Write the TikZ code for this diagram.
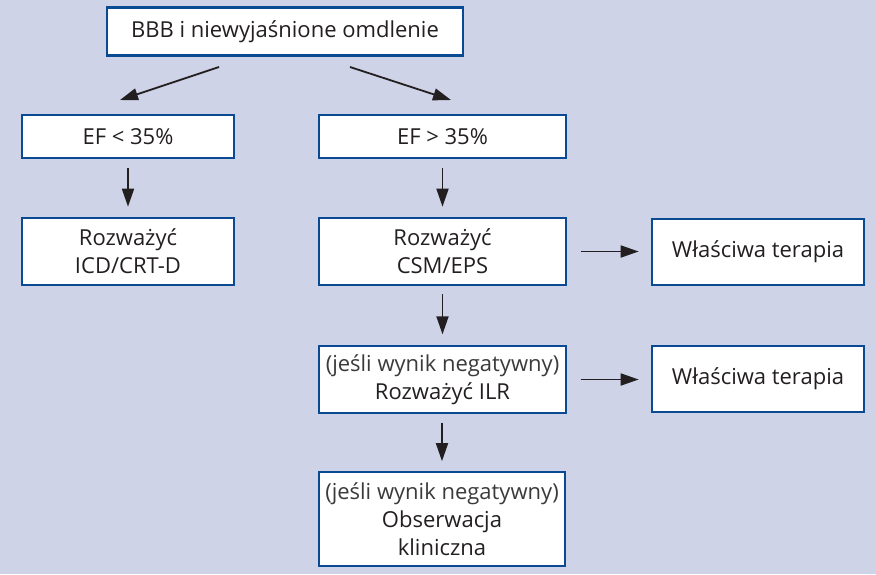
\documentclass[tikz,border=0pt]{standalone}
\usepackage{fontspec}
\setmainfont{Open Sans}
\usetikzlibrary{arrows.meta}
\definecolor{bgc}{RGB}{207,211,232}
\definecolor{bordc}{RGB}{10,74,147}
\definecolor{txtc}{RGB}{35,31,32}
\definecolor{lighttxt}{RGB}{60,58,60}
\tikzset{
  box/.style={draw=bordc, line width=2.6pt, fill=white, rectangle, inner sep=0pt,
    align=center, text=txtc, font=\fontsize{22}{28}\selectfont},
  thinbox/.style={box, line width=1.3pt},
  arr/.style={draw=txtc, line width=1.8pt, -{Triangle[length=18pt,width=12pt]}},
}
\begin{document}
\begin{tikzpicture}[x=1pt,y=-1pt]
\fill[bgc] (0,0) rectangle (876,574);
\useasboundingbox (0,0) rectangle (876,574);

\node[box, minimum width=356pt, minimum height=48pt] (top) at (285,31.5) {BBB i niewyjaśnione omdlenie};
\node[box, minimum width=212pt, minimum height=43pt] (efl) at (128,136.5) {EF < 35\%};
\node[box, minimum width=247pt, minimum height=43pt] (efr) at (442.5,136.5) {EF > 35\%};
\node[box, minimum width=212pt, minimum height=67pt] (icd) at (128,251.5) {Rozważyć\\ICD/CRT-D};
\node[box, minimum width=247pt, minimum height=67pt] (csm) at (442.5,251.5) {Rozważyć\\CSM/EPS};
\node[box, minimum width=212pt, minimum height=66pt] (wt1) at (758,252) {Właściwa terapia};
\node[thinbox, minimum width=247pt, minimum height=67pt] (ilr) at (442.5,379.5) {\textcolor{lighttxt}{(jeśli wynik negatywny)}\\Rozważyć ILR};
\node[box, minimum width=212pt, minimum height=66pt] (wt2) at (758,379) {Właściwa terapia};
\node[thinbox, line width=1.6pt, minimum width=246pt, minimum height=94pt] (obs) at (442,519) {\textcolor{lighttxt}{(jeśli wynik negatywny)}\\Obserwacja\\kliniczna};

\coordinate (l1) at (219,67);
\coordinate (l2) at (120,100);
\coordinate (r1) at (350,67);
\coordinate (r2) at (451,100);
\draw[arr] (l1) -- (l2);
\draw[arr] (r1) -- (r2);

\draw[arr, shorten <=9pt, shorten >=10pt] (efl.south) -- (icd.north);
\draw[arr, shorten <=9pt, shorten >=10pt] (efr.south) -- (csm.north);
\draw[arr, shorten <=8pt, shorten >=11pt] (csm.south) -- (ilr.north);
\draw[arr, shorten <=9pt, shorten >=10pt] (ilr.south -| obs.north) -- (obs.north);
\draw[arr, shorten <=14pt, shorten >=12pt] (csm.east) -- (csm.east -| wt1.west);
\draw[arr, shorten <=14pt, shorten >=12pt] (ilr.east) -- (ilr.east -| wt2.west);
\end{tikzpicture}
\end{document}
